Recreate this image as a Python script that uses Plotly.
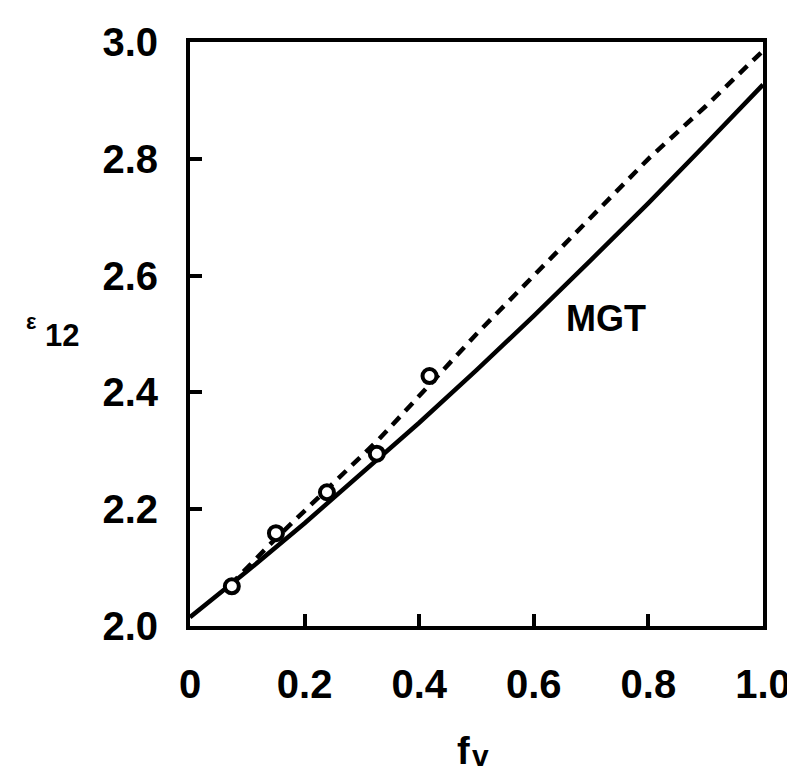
import plotly.graph_objects as go

# Data
mgt_x = [0, 0.1, 0.2, 0.3, 0.4, 0.5, 0.6, 0.7, 0.8, 0.9, 1.0]
mgt_y = [2.015, 2.094, 2.176, 2.261, 2.348, 2.438, 2.531, 2.627, 2.724, 2.825, 2.927]

dash_x = [0.07, 0.15, 0.24, 0.33, 0.42, 0.5, 0.6, 0.7, 0.8, 0.9, 1.0]
dash_y = [2.07, 2.15, 2.235, 2.32, 2.415, 2.50, 2.60, 2.70, 2.80, 2.89, 2.985]

exp_x = [0.073, 0.150, 0.239, 0.326, 0.418]
exp_y = [2.068, 2.159, 2.229, 2.295, 2.428]

x_ticks = [0, 0.2, 0.4, 0.6, 0.8, 1.0]
x_ticklabels = ["0", "0.2", "0.4", "0.6", "0.8", "1.0"]
y_ticks = [2.0, 2.2, 2.4, 2.6, 2.8, 3.0]
y_ticklabels = ["2.0", "2.2", "2.4", "2.6", "2.8", "3.0"]

FONT = "Liberation Sans"

fig = go.Figure()
fig.add_trace(go.Scatter(x=mgt_x, y=mgt_y, mode="lines",
                         line=dict(color="black", width=4.5), showlegend=False))
fig.add_trace(go.Scatter(x=dash_x, y=dash_y, mode="lines",
                         line=dict(color="black", width=4.5, dash="11px,8px"), showlegend=False))
fig.add_trace(go.Scatter(x=exp_x, y=exp_y, mode="markers",
                         marker=dict(symbol="circle", size=14, color="white",
                                     line=dict(color="black", width=4)),
                         showlegend=False))

axis_common = dict(
    showgrid=False, zeroline=False, showline=True, linecolor="black", linewidth=4,
    mirror=True, ticks="inside", ticklen=12, tickwidth=4, tickcolor="black",
    ticklabeloverflow="allow",
    tickfont=dict(family=FONT, size=40, color="black", weight="bold"),
)

fig.update_xaxes(range=[0, 1.0], tickvals=x_ticks, ticktext=x_ticklabels,
                 ticklabelstandoff=20, **axis_common)
fig.update_yaxes(range=[2.0, 3.0], tickvals=y_ticks, ticktext=y_ticklabels,
                 ticklabelstandoff=20, **axis_common)

ann_font = dict(family=FONT, color="black", weight="bold")
fig.add_annotation(x=0.652, y=2.526, xref="x", yref="y", text="MGT", showarrow=False,
                   xanchor="left", yanchor="middle", font=dict(size=36, **ann_font))
fig.add_annotation(x=-0.2235, y=0.498, xref="paper", yref="paper", text="12", showarrow=False,
                   xanchor="center", yanchor="middle", font=dict(size=31, **ann_font))
fig.add_annotation(x=-0.276, y=0.522, xref="paper", yref="paper", text="ε", showarrow=False,
                   xanchor="center", yanchor="middle", font=dict(size=22, **ann_font))
fig.add_annotation(x=0.478, y=-0.2133, xref="paper", yref="paper", text="f", showarrow=False,
                   xanchor="center", yanchor="middle", font=dict(size=38, **ann_font))
fig.add_annotation(x=0.5068, y=-0.2218, xref="paper", yref="paper", text="v", showarrow=False,
                   xanchor="center", yanchor="middle", font=dict(size=30, **ann_font))

fig.update_layout(
    width=795, height=772,
    margin=dict(l=182, r=27, t=32, b=154),
    paper_bgcolor="white", plot_bgcolor="white",
)

fig.write_html("out.html")
